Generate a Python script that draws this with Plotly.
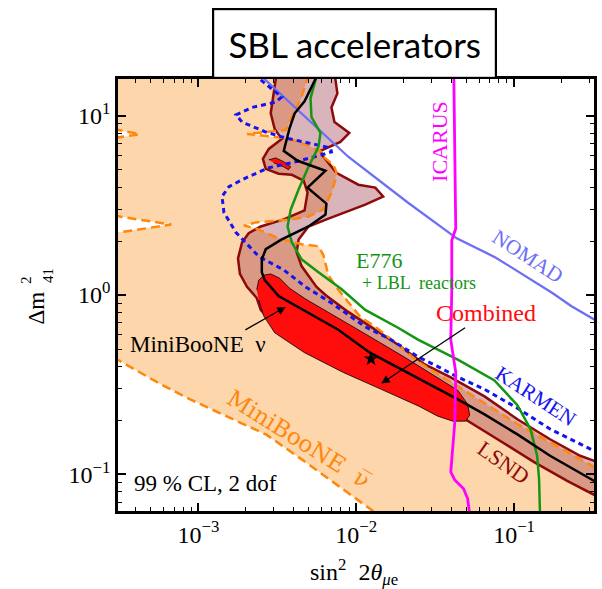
import math
import plotly.graph_objects as go

# ---------------- data: x = sin^2(2 theta_mu_e), y = Delta m^2_41 [eV^2] ----------------

# MiniBooNE anti-neutrino allowed region: right/upper border (top -> bottom right)
mbbar_edge_s = [4.9e-3, 4.84e-3, 4.50e-3, 4.01e-3, 3.62e-3, 3.57e-3, 2.03e-3, 3.57e-3, 4.31e-3,
                4.98e-3, 6.02e-3, 6.19e-3, 7.16e-3, 7.48e-3, 7.37e-3, 6.96e-3, 6.19e-3, 4.98e-3,
                3.90e-3, 2.67e-3, 2.31e-3, 1.94e-3, 2.31e-3, 3.22e-3, 4.50e-3, 5.76e-3, 6.19e-3,
                6.65e-3, 7.69e-3, 8.89e-3, 1.06e-2, 1.32e-2, 1.84e-2, 2.46e-2, 3.53e-2, 5.08e-2,
                0.105, 0.34]
mbbar_edge_m = [17.0, 15.7, 12.7, 10.3, 8.63, 8.31, 7.90, 7.50, 7.13,
                6.78, 6.28, 5.89, 5.32, 4.86, 4.39, 3.72, 3.00, 2.74,
                2.64, 2.57, 2.54, 2.44, 2.35, 2.07, 1.92, 1.87, 1.67,
                1.29, 1.07, 0.915, 0.755, 0.665, 0.528, 0.425, 0.347, 0.286,
                0.191, 0.107]
# lower-left border of the same region
mbbar_low_s = [2.9e-4, 5.65e-4, 8.86e-4, 1.56e-3, 2.71e-3, 4.98e-3, 7.69e-3, 1.22e-2, 1.36e-2]
mbbar_low_m = [0.449, 0.321, 0.262, 0.208, 0.166, 0.114, 0.0864, 0.0644, 0.06]
# two small excluded wedges on the left side (tip, lower and upper Delta m^2)
notch_tip_s = [4.23e-4, 6.73e-4]
notch_tip_m = [7.88, 2.47]
notch_lo_m = [7.50, 2.21]
notch_hi_m = [8.42, 2.77]

# LSND allowed region (closed contour)
lsnd_s = [3.12e-3, 2.96e-3, 2.87e-3, 3.04e-3, 3.37e-3, 2.79e-3, 2.56e-3, 2.67e-3, 3.22e-3, 3.90e-3,
          4.64e-3, 4.91e-3, 4.70e-3, 3.47e-3, 2.48e-3, 2.08e-3, 1.89e-3, 1.78e-3, 1.83e-3, 2.03e-3,
          2.34e-3, 2.48e-3, 3.22e-3, 4.98e-3, 8.89e-3, 1.84e-2, 3.29e-2, 5.08e-2, 7.85e-2, 0.134,
          0.217, 0.34, 0.34, 0.262, 0.169, 0.105, 6.50e-2, 3.97e-2, 2.72e-2, 1.84e-2,
          1.32e-2, 8.89e-3, 6.38e-3, 5.60e-3, 4.50e-3, 4.19e-3, 4.31e-3, 4.98e-3, 6.47e-3, 8.52e-3,
          1.14e-2, 1.48e-2, 1.32e-2, 1.03e-2, 7.48e-3, 6.19e-3, 5.93e-3, 7.93e-3, 9.03e-3, 7.27e-3,
          6.96e-3, 7.59e-3, 7.3e-3]
lsnd_m = [17.0, 12.7, 10.3, 8.42, 7.41, 6.52, 5.74, 5.05, 4.74, 4.68,
          4.34, 3.72, 2.96, 2.64, 2.41, 2.21, 1.97, 1.60, 1.31, 1.11,
          0.962, 0.826, 0.640, 0.528, 0.425, 0.325, 0.252, 0.198, 0.157, 0.117,
          0.092, 0.075, 0.117, 0.127, 0.157, 0.203, 0.272, 0.347, 0.410, 0.528,
          0.640, 0.805, 1.0, 1.11, 1.45, 1.73, 2.04, 2.41, 2.64, 2.88,
          3.19, 3.54, 3.97, 4.12, 4.80, 5.89, 6.36, 7.13, 8.00, 9.20,
          11.1, 13.3, 17.0]

# combined fit: main allowed island and small island
comb_s = [2.34e-3, 2.41e-3, 2.59e-3, 2.87e-3, 3.27e-3, 3.78e-3, 4.77e-3, 7.69e-3, 1.22e-2, 2.04e-2,
          3.29e-2, 4.40e-2, 5.08e-2, 5.23e-2, 4.93e-2, 4.09e-2, 3.29e-2, 2.49e-2, 1.44e-2, 8.28e-3,
          4.70e-3, 3.04e-3, 2.59e-3, 2.41e-3]
comb_m = [1.07, 1.21, 1.29, 1.31, 1.24, 1.09, 0.950, 0.746, 0.586, 0.448,
          0.347, 0.294, 0.246, 0.214, 0.198, 0.198, 0.211, 0.240, 0.298, 0.370,
          0.477, 0.616, 0.765, 0.938]
island_s = [2.79e-3, 3.09e-3, 3.47e-3, 3.84e-3, 3.72e-3, 3.47e-3, 3.00e-3]
island_m = [5.67, 5.81, 5.53, 5.18, 4.99, 5.18, 5.46]
best_fit_s = [1.24e-2]
best_fit_m = [0.440]

# MiniBooNE neutrino contour
mbnu_s = [5.7e-3, 4.70e-3, 4.07e-3, 3.78e-3, 3.47e-3, 4.25e-3, 6.38e-3, 4.91e-3, 6.47e-3, 6.38e-3,
          4.98e-3, 3.37e-3, 2.67e-3, 2.52e-3, 2.52e-3, 2.63e-3, 3.22e-3, 4.77e-3, 7.69e-3, 1.22e-2,
          2.04e-2, 3.29e-2, 4.40e-2, 6.50e-2, 0.105, 0.169, 0.34]
mbnu_m = [17.0, 12.0, 10.3, 8.53, 6.36, 5.60, 4.93, 3.97, 3.23, 2.81,
          2.41, 2.04, 1.80, 1.58, 1.34, 1.21, 0.987, 0.815, 0.640, 0.477,
          0.375, 0.301, 0.262, 0.216, 0.167, 0.127, 0.0894]

# E776 + LBL reactors bound
e776_s = [5.6e-3, 5.51e-3, 5.13e-3, 5.20e-3, 5.93e-3, 5.76e-3, 4.98e-3, 4.31e-3, 3.84e-3, 3.67e-3,
          3.90e-3, 4.50e-3, 5.76e-3, 8.04e-3, 8.89e-3, 1.14e-2, 1.84e-2, 2.46e-2, 4.40e-2, 7.51e-2,
          0.105, 0.127, 0.140, 0.144, 0.146]
e776_m = [17.0, 15.7, 12.5, 9.81, 8.00, 6.69, 5.18, 3.87, 2.99, 2.41,
          1.97, 1.58, 1.34, 1.08, 1.0, 0.826, 0.657, 0.564, 0.436, 0.334,
          0.243, 0.179, 0.127, 0.0944, 0.06]

# KARMEN bound
karmen_s = [2.24e-3, 3.37e-3, 3.09e-3, 2.18e-3, 1.73e-3, 1.89e-3, 2.67e-3, 3.57e-3, 4.98e-3, 6.86e-3,
            6.96e-3, 6.02e-3, 4.13e-3, 2.79e-3, 2.00e-3, 1.56e-3, 1.41e-3, 1.45e-3, 1.73e-3, 2.41e-3,
            3.47e-3, 4.77e-3, 6.96e-3, 1.14e-2, 1.66e-2, 2.46e-2, 3.29e-2, 4.33e-2, 6.50e-2, 0.105,
            0.169, 0.34]
karmen_m = [17.0, 12.7, 11.9, 11.1, 10.1, 9.20, 8.10, 7.50, 7.04, 6.60,
            6.28, 6.04, 5.53, 5.12, 4.50, 4.02, 3.54, 2.88, 2.23, 1.64,
            1.38, 1.11, 0.903, 0.665, 0.563, 0.453, 0.399, 0.351, 0.298, 0.234,
            0.179, 0.132]

# NOMAD bound
nomad_s = [2.43e-3, 4.98e-3, 8.89e-3, 2.12e-2, 4.33e-2, 7.62e-2, 0.174, 0.230, 0.34]
nomad_m = [17.0, 9.4, 5.9, 3.28, 2.07, 1.62, 1.03, 0.869, 0.71]

# ICARUS bound
icarus_s = [4.15e-2, 4.21e-2, 4.27e-2, 4.03e-2, 4.03e-2, 3.97e-2, 4.27e-2, 4.21e-2, 4.09e-2, 3.97e-2,
            4.21e-2, 4.79e-2, 5.08e-2, 5.23e-2]
icarus_m = [17.0, 5.60, 2.35, 2.02, 1.07, 0.564, 0.370, 0.195, 0.138, 0.103,
            0.0932, 0.0831, 0.0731, 0.06]

# axis limits and labelled decades
S_MIN, S_MAX = 3.09e-4, 0.321
M_MIN, M_MAX = 1 / 16, 16
x_tick_vals = [1e-3, 1e-2, 1e-1]
x_tick_text = ["10<sup>\u22123</sup>", "10<sup>\u22122</sup>", "10<sup>\u22121</sup>"]
y_tick_vals = [0.1, 1, 10]
y_tick_text = ["10<sup>\u22121</sup>", "10<sup>0</sup>", "10<sup>1</sup>"]

# ---------------- styling ----------------
SERIF = "Liberation Serif, Times New Roman, DejaVu Serif, serif"
PEACH = "rgb(253,214,172)"
ORANGE = "rgb(255,135,10)"
LSND_FILL = "rgba(150,40,60,0.35)"
LSND_LINE = "rgb(140,10,10)"
RED = "rgb(255,12,12)"
GREEN = "rgb(20,150,20)"
BLUE = "rgb(20,20,240)"
LAVENDER = "rgb(110,110,245)"
MAGENTA = "rgb(255,0,255)"

# outer limits used to close polygons outside the visible frame
EDGE_L, EDGE_R, EDGE_T, EDGE_B = 2.9e-4, 0.34, 17.0, 0.05

fig = go.Figure()


def area(s, m, fill, color, width):
    fig.add_trace(go.Scatter(x=s, y=m, mode="lines", fill="toself", fillcolor=fill,
                             line=dict(color=color, width=width),
                             hoverinfo="skip", showlegend=False))


def curve(s, m, color, width, dash="solid"):
    fig.add_trace(go.Scatter(x=s, y=m, mode="lines",
                             line=dict(color=color, width=width, dash=dash),
                             hoverinfo="skip", showlegend=False))


# MiniBooNE anti-neutrino region (filled)
fill_s = ([EDGE_L] + mbbar_edge_s + [EDGE_R, mbbar_low_s[-1]] + mbbar_low_s[::-1]
          + [EDGE_L, notch_tip_s[1], EDGE_L, EDGE_L, notch_tip_s[0], EDGE_L])
fill_m = ([EDGE_T] + mbbar_edge_m + [EDGE_B, EDGE_B] + mbbar_low_m[::-1]
          + [notch_lo_m[1], notch_tip_m[1], notch_hi_m[1],
             notch_lo_m[0], notch_tip_m[0], notch_hi_m[0]])
area(fill_s, fill_m, PEACH, "rgba(0,0,0,0)", 0)

# LSND
area(lsnd_s, lsnd_m, LSND_FILL, LSND_LINE, 2.5)

# dashed borders of the anti-neutrino region
DASH = "9px,5px"
curve(mbbar_edge_s, mbbar_edge_m, ORANGE, 2.5, DASH)
curve(mbbar_low_s, mbbar_low_m, ORANGE, 2.5, DASH)
for i in range(len(notch_tip_s)):
    curve([EDGE_L, notch_tip_s[i], EDGE_L], [notch_hi_m[i], notch_tip_m[i], notch_lo_m[i]],
          ORANGE, 2.5, DASH)

# combined fit
area(comb_s, comb_m, RED, "black", 0.8)
area(island_s, island_m, RED, "black", 0.8)

# exclusion limits
curve(nomad_s, nomad_m, LAVENDER, 2.3)
curve(karmen_s, karmen_m, BLUE, 3, "5px,4px")
curve(e776_s, e776_m, GREEN, 2.5)
curve(mbnu_s, mbnu_m, "black", 2.5)
curve(icarus_s, icarus_m, MAGENTA, 2.8)

fig.add_trace(go.Scatter(x=best_fit_s, y=best_fit_m, mode="markers",
                         marker=dict(symbol="star", size=11, color="black"),
                         hoverinfo="skip", showlegend=False))


# ---------------- text ----------------
def lg(v):
    return math.log10(v)


labels = [
    ("ICARUS", 3.33e-2, 7.2, MAGENTA, 22, -90, SERIF),
    ("NOMAD", 0.121, 1.64, LAVENDER, 21, 33, SERIF),
    ("E776", 1.40e-2, 1.56, GREEN, 22, 0, SERIF),
    ("+ LBL  reactors", 2.49e-2, 1.17, GREEN, 18, 0, SERIF),
    ("Combined", 6.59e-2, 0.795, RED, 24, 0, SERIF),
    ("MiniBooNE  \u03bd", 9.96e-4, 0.528, "black", 23, 0, SERIF),
    ("MiniBooNE  \u03bd\u0305", 4.31e-3, 0.157, ORANGE, 23, 32,
     "DejaVu Serif, Liberation Serif, serif"),
    ("KARMEN", 0.136, 0.272, BLUE, 21, 33, SERIF),
    ("LSND", 8.56e-2, 0.117, LSND_LINE, 22, 35, SERIF),
    ("99 % CL, 2 dof", 1.10e-3, 0.0886, "black", 23, 0, SERIF),
]
for text, s, m, color, size, angle, family in labels:
    fig.add_annotation(x=lg(s), y=lg(m), xref="x", yref="y", text=text, showarrow=False,
                       textangle=angle, xanchor="center", yanchor="middle",
                       font=dict(family=family, size=size, color=color))

# arrows from the labels to the contours
arrows = [
    (3.57e-3, 0.858, 1.94e-3, 0.632),
    (1.44e-2, 0.321, 5.0e-2, 0.665),
]
for hs, hm, ts, tm in arrows:
    fig.add_annotation(x=lg(hs), y=lg(hm), ax=lg(ts), ay=lg(tm), xref="x", yref="y",
                       axref="x", ayref="y", text="", showarrow=True, arrowhead=2,
                       arrowsize=1.3, arrowwidth=1.3, arrowcolor="black", standoff=0)

# title box
fig.add_annotation(x=0.4958, y=1.0, xref="paper", yref="paper", xanchor="center",
                   yanchor="bottom", text="SBL accelerators", showarrow=False,
                   font=dict(family="Lato", size=35, color="black"),
                   bgcolor="white", bordercolor="black", borderwidth=2.2, borderpad=0,
                   width=281, height=67)

# axis titles
paper_text = [
    ("sin<sup>2</sup>  2<i>\u03b8</i><sub><i>\u03bc</i>e</sub>", 0.4948, -0.142, 24, 0),
    ("\u0394m", -0.1733, 0.4699, 23, -90),
    ("2", -0.1931, 0.5347, 15, -90),
    ("41", -0.1482, 0.5451, 15, -90),
]
for text, x, y, size, angle in paper_text:
    fig.add_annotation(x=x, y=y, xref="paper", yref="paper", showarrow=False, text=text,
                       textangle=angle, xanchor="center", yanchor="middle",
                       font=dict(family=SERIF, size=size, color="black"))

axis_common = dict(
    type="log", showgrid=False, zeroline=False,
    showline=True, linecolor="black", linewidth=2.5, mirror="allticks",
    ticks="inside", ticklen=8, tickwidth=1.5, tickcolor="black",
    tickmode="array",
    tickfont=dict(family=SERIF, size=24, color="black"),
    minor=dict(ticks="inside", ticklen=4.5, tickwidth=1.3, tickcolor="black",
               dtick="D1", showgrid=False),
)
fig.update_xaxes(range=[lg(S_MIN), lg(S_MAX)], tickvals=x_tick_vals, ticktext=x_tick_text,
                 **axis_common)
fig.update_yaxes(range=[lg(M_MIN), lg(M_MAX)], tickvals=y_tick_vals, ticktext=y_tick_text,
                 **axis_common)

fig.update_layout(
    width=602, height=589,
    margin=dict(l=118, r=5, t=79, b=78),
    paper_bgcolor="white", plot_bgcolor="white",
    showlegend=False,
)

fig.write_html("out.html")
